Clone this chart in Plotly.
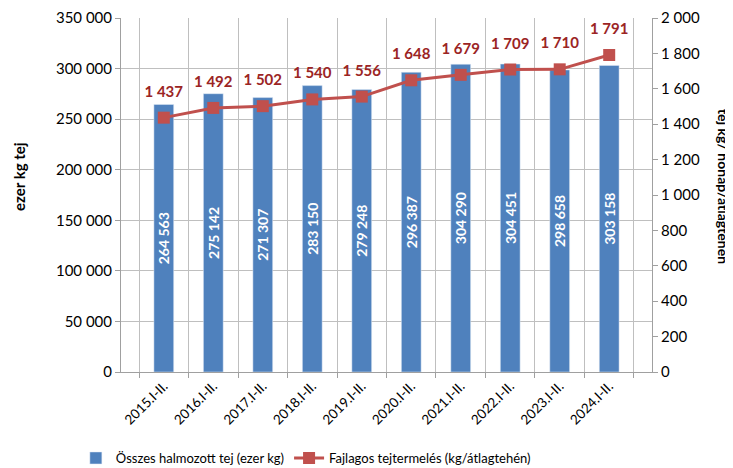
import plotly.graph_objects as go

categories = ["2015.I-II.", "2016.I-II.", "2017.I-II.", "2018.I-II.", "2019.I-II.",
              "2020.I-II.", "2021.I-II.", "2022.I-II.", "2023.I-II.", "2024.I-II."]
total_milk = [264563, 275142, 271307, 283150, 279248, 296387, 304290, 304451, 298658, 303158]
per_cow = [1437, 1492, 1502, 1540, 1556, 1648, 1679, 1709, 1710, 1791]

FONT = "Lato"
fig = go.Figure()
fig.add_trace(go.Bar(
    x=categories, y=total_milk, name="Összes halmozott tej (ezer kg)",
    marker=dict(color="#4F81BD"),
    texttemplate="%{y:,d}", textposition="inside", insidetextanchor="middle",
    constraintext="none",
    textangle=-90, textfont=dict(color="white", size=14, family=FONT, weight="bold"),
    cliponaxis=False,
))
fig.add_trace(go.Scatter(
    x=categories, y=per_cow, name="Fajlagos tejtermelés (kg/átlagtehén)", yaxis="y2",
    mode="lines+markers",
    line=dict(color="#C0504D", width=3),
    marker=dict(symbol="square", size=12, color="#C0504D"),
    cliponaxis=False,
))
# value labels for the line (transparent larger markers give the label offset)
fig.add_trace(go.Scatter(
    x=categories, y=per_cow, yaxis="y2", mode="markers+text", showlegend=False,
    hoverinfo="skip",
    marker=dict(symbol="square", size=26, color="rgba(0,0,0,0)"),
    texttemplate="%{y:,d}", textposition="top center",
    textfont=dict(color="#9B2424", size=15, family=FONT, weight="bold"),
    cliponaxis=False,
))
fig.update_layout(
    width=725, height=460,
    margin=dict(l=113, r=81, t=10, b=96, autoexpand=False),
    paper_bgcolor="white", plot_bgcolor="white",
    separators=", ",
    font=dict(family=FONT, size=15, color="black"),
    bargap=0.6,
    showlegend=True,
    legend=dict(orientation="h", x=-0.085, xanchor="left", y=-0.243, yanchor="middle",
                font=dict(size=13), itemwidth=30, traceorder="normal"),
    xaxis=dict(type="category", tickson="boundaries", showgrid=True, gridcolor="#BFBFBF",
               gridwidth=1, showline=True, linecolor="#A0A0A0", ticks="outside",
               tickcolor="#A0A0A0", ticklen=5, tickangle=-45, tickfont=dict(size=13.5),
               automargin=False),
    yaxis=dict(range=[0, 350000], dtick=50000, tickformat=",d", showgrid=True,
               gridcolor="#BFBFBF", showline=True, linecolor="#A0A0A0", ticks="outside",
               tickcolor="#A0A0A0", ticklen=5, zeroline=False, automargin=False),
    yaxis2=dict(range=[0, 2000], dtick=200, tickformat=",d", overlaying="y", side="right",
                showgrid=False, showline=True, linecolor="#A0A0A0", ticks="outside",
                tickcolor="#A0A0A0", ticklen=5, zeroline=False, automargin=False),
    annotations=[
        dict(text="<b>ezer kg tej</b>", textangle=-90,
             xref="paper", yref="paper", x=-0.192, y=0.551, showarrow=False,
             xanchor="center", yanchor="middle", font=dict(size=15)),
        dict(text="<b>tej kg/ hónap/átlagtehén</b>", textangle=90,
             xref="paper", yref="paper", x=1.136, y=0.525, showarrow=False,
             xanchor="center", yanchor="middle", font=dict(size=14)),
    ],
)
fig.write_html("out.html")
